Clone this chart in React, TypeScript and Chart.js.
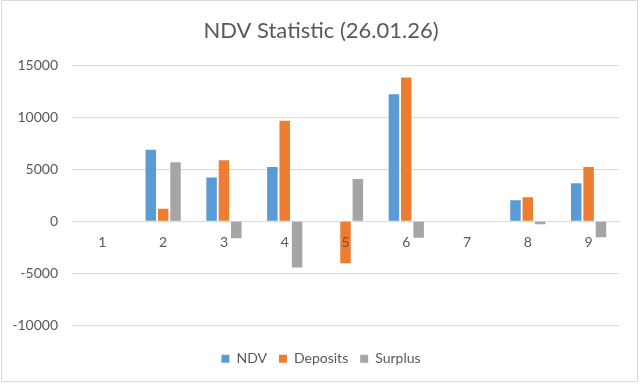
import React, { useEffect, useRef } from "react";
import { Chart, registerables } from "chart.js";

Chart.register(...registerables);

const categories = ["1", "2", "3", "4", "5", "6", "7", "8", "9"];
const ndv = [0, 6850, 4200, 5200, 0, 12200, 0, 2000, 3650];
const deposits = [0, 1200, 5850, 9650, -4050, 13800, 0, 2300, 5200];
const surplus = [0, 5650, -1650, -4450, 4050, -1600, 0, -300, -1550];
const yTicks = [-10000, -5000, 0, 5000, 10000, 15000];

const FONT = "Lato, 'Open Sans', sans-serif";
const TEXT = "#595959";
const GRID = "#D9D9D9";

const borderPlugin = {
  id: "frameBorder",
  afterDraw(chart: any) {
    const ctx = chart.ctx;
    ctx.save();
    ctx.strokeStyle = GRID;
    ctx.lineWidth = 1;
    ctx.strokeRect(1.5, 0.5, 636, 381);
    ctx.restore();
  },
};

export default function App() {
  const ref = useRef<HTMLCanvasElement>(null);
  useEffect(() => {
    document.body.style.margin = "0";
    const chart = new Chart(ref.current!, {
      type: "bar",
      data: {
        labels: categories,
        datasets: [
          { label: "NDV", data: ndv, backgroundColor: "#5B9BD5" },
          { label: "Deposits", data: deposits, backgroundColor: "#ED7D31" },
          { label: "Surplus", data: surplus, backgroundColor: "#A5A5A5" },
        ],
      },
      options: {
        animation: false,
        responsive: false,
        layout: { padding: { left: 2, right: 0, top: 0, bottom: 8.3 } },
        datasets: { bar: { categoryPercentage: 0.61, barPercentage: 0.85 } },
        plugins: {
          title: {
            display: true,
            text: "NDV Statistic (26.01.26)",
            color: TEXT,
            font: { family: FONT, size: 22, weight: "normal", lineHeight: 1.2 },
            padding: { top: 18, bottom: 20.6 },
          },
          legend: {
            position: "bottom",
            title: { display: true, text: "", font: { size: 10, lineHeight: 1 }, padding: { top: 4.4, bottom: 0 } },
            labels: {
              color: TEXT,
              boxWidth: 8,
              boxHeight: 8,
              padding: 12,
              font: { family: FONT, size: 14 },
            },
          },
          tooltip: { enabled: false },
        },
        scales: {
          x: {
            position: { y: 0 } as any,
            grid: { display: false, drawTicks: false },
            border: { display: true, color: GRID },
            ticks: { z: 1, autoSkip: false, color: TEXT, font: { family: FONT, size: 14 }, padding: 12.6 },
          },
          y: {
            min: -10000,
            max: 15000,
            afterBuildTicks(scale: any) {
              scale.ticks = yTicks.map((v) => ({ value: v }));
            },
            afterFit(scale: any) {
              scale.width = 70;
            },
            grid: { color: GRID, drawTicks: false },
            border: { display: false },
            ticks: {
              color: TEXT,
              font: { family: FONT, size: 14 },
              padding: 14,
              callback: (v: any) => String(v),
            },
          },
          yRight: {
            position: "right",
            min: -10000,
            max: 15000,
            afterFit(scale: any) {
              scale.width = 21;
            },
            grid: { display: false, drawTicks: false },
            border: { display: false },
            ticks: { display: false },
          },
        },
      },
      plugins: [borderPlugin],
    });
    return () => chart.destroy();
  }, []);
  return (
    <div style={{ width: 640, height: 384 }}>
      <canvas ref={ref} width={640} height={384} />
    </div>
  );
}
